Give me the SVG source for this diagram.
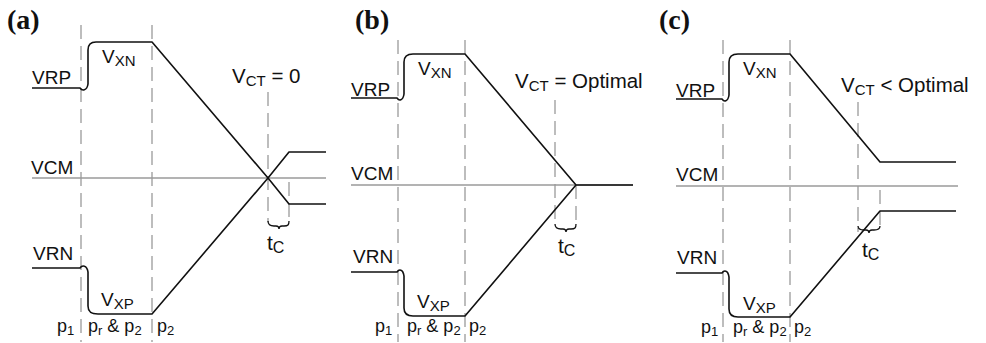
<svg xmlns="http://www.w3.org/2000/svg" width="986" height="343" viewBox="0 0 986 343">
<style>
text{font-family:"Liberation Sans",Arial,sans-serif;font-size:19px;fill:#111}
.big{font-size:20.5px}
.sub{font-size:15px}
.tc{font-size:21px}
.tcs{font-size:16px}
.p{font-size:18px}
.ps{font-size:13px}
.lbl{font-family:"Liberation Serif","Times New Roman",serif;font-weight:bold;font-size:28px}
.dash{stroke:#9a9a9a;stroke-width:1.3;stroke-dasharray:14,7;fill:none}
.vcm{stroke:#9a9a9a;stroke-width:1.5;fill:none}
.sig{stroke:#111;stroke-width:1.6;fill:none;stroke-linejoin:round}
.brace{stroke:#111;stroke-width:1.3;fill:none}
</style>
<rect width="986" height="343" fill="#fff"/>

<!-- Panel (a) -->
<g id="panel-a">
  <text class="lbl" x="7" y="29">(a)</text>
  <g id="a-grid">
    <line class="dash" x1="81" y1="25" x2="81" y2="342"/>
    <line class="dash" x1="152" y1="25" x2="152" y2="342"/>
    <line class="dash" x1="268" y1="92" x2="268" y2="222"/>
    <line class="dash" x1="289" y1="182" x2="289" y2="222"/>
    <line class="vcm" x1="32" y1="178" x2="326" y2="178"/>
  </g>
  <g id="a-signals">
    <path class="sig" d="M32,88 H80 C82,91 87,91 88,84 L88,50 C88,44 91,42 96,42 H152 L268,178 L289,204 H326"/>
    <path class="sig" d="M32,268 H80 C82,265 87,265 88,272 L88,306 C88,312 91,314 98,314 H152 L268,178 L289,152 H326"/>
    <path class="brace" d="M268,221 C268,225 270,226 274,226 L276,226 C278,226 279,227 279,229 C279,227 280,226 282,226 L284,226 C288,226 289,225 289,221"/>
  </g>
  <text x="32" y="84">VRP</text>
  <text x="102" y="63">V<tspan class="sub" dy="3">XN</tspan></text>
  <text class="big" x="232" y="83">V<tspan class="sub" dy="3">CT</tspan><tspan dy="-3"> = 0</tspan></text>
  <text x="31" y="174">VCM</text>
  <text x="33" y="260">VRN</text>
  <text x="101" y="306">V<tspan class="sub" dy="3">XP</tspan></text>
  <text class="tc" x="267" y="250">t<tspan class="tcs" dy="3">C</tspan></text>
  <text class="p" x="57" y="332">p<tspan class="ps" dy="3">1</tspan></text>
  <text class="p" x="88" y="332">p<tspan class="ps" dy="3">r</tspan><tspan dy="-3"> &amp; p</tspan><tspan class="ps" dy="3">2</tspan></text>
  <text class="p" x="157" y="332">p<tspan class="ps" dy="3">2</tspan></text>
</g>

<!-- Panel (b) -->
<g id="panel-b">
  <text class="lbl" x="355" y="29">(b)</text>
  <g id="b-grid">
    <line class="dash" x1="398" y1="40" x2="398" y2="342"/>
    <line class="dash" x1="465" y1="40" x2="465" y2="342"/>
    <line class="dash" x1="555" y1="100" x2="555" y2="225"/>
    <line class="dash" x1="576" y1="185" x2="576" y2="225"/>
    <line class="vcm" x1="351" y1="185" x2="633" y2="185"/>
  </g>
  <g id="b-signals">
    <path class="sig" d="M351,98 H397 C399,101 403,101 404,94 L404,62 C404,56 407,54 413,54 H465 L576,185 H633"/>
    <path class="sig" d="M351,272 H397 C399,269 403,269 404,276 L404,308 C404,314 407,316 413,316 H465 L576,185"/>
    <path class="brace" d="M555,224 C555,228 557,229 561,229 L563,229 C565,229 566,230 566,232 C566,230 567,229 569,229 L571,229 C575,229 576,228 576,224"/>
  </g>
  <text x="351" y="96">VRP</text>
  <text x="418" y="75">V<tspan class="sub" dy="3">XN</tspan></text>
  <text class="big" x="515" y="88">V<tspan class="sub" dy="3">CT</tspan><tspan dy="-3"> = Optimal</tspan></text>
  <text x="351" y="180">VCM</text>
  <text x="353" y="263">VRN</text>
  <text x="417" y="308">V<tspan class="sub" dy="3">XP</tspan></text>
  <text class="tc" x="558" y="253">t<tspan class="tcs" dy="3">C</tspan></text>
  <text class="p" x="375" y="332">p<tspan class="ps" dy="3">1</tspan></text>
  <text class="p" x="407" y="332">p<tspan class="ps" dy="3">r</tspan><tspan dy="-3"> &amp; p</tspan><tspan class="ps" dy="3">2</tspan></text>
  <text class="p" x="469" y="332">p<tspan class="ps" dy="3">2</tspan></text>
</g>

<!-- Panel (c) -->
<g id="panel-c">
  <text class="lbl" x="659" y="29">(c)</text>
  <g id="c-grid">
    <line class="dash" x1="723" y1="40" x2="723" y2="342"/>
    <line class="dash" x1="790" y1="40" x2="790" y2="342"/>
    <line class="dash" x1="858" y1="102" x2="858" y2="232"/>
    <line class="dash" x1="880" y1="190" x2="880" y2="232"/>
    <line class="vcm" x1="676" y1="186" x2="958" y2="186"/>
  </g>
  <g id="c-signals">
    <path class="sig" d="M676,99 H722 C724,102 728,102 729,95 L729,62 C729,56 732,54 738,54 H790 L880,162 H956"/>
    <path class="sig" d="M676,273 H722 C724,270 728,270 729,277 L729,309 C729,315 732,317 738,317 H790 L880,211 H956"/>
    <path class="brace" d="M858,226 C858,229 860,230 864,230 L866,230 C868,230 869,231 869,233 C869,231 870,230 872,230 L874,230 C878,230 880,229 880,226"/>
  </g>
  <text x="676" y="97">VRP</text>
  <text x="743" y="75">V<tspan class="sub" dy="3">XN</tspan></text>
  <text class="big" x="841" y="92">V<tspan class="sub" dy="3">CT</tspan><tspan dy="-3"> &lt; Optimal</tspan></text>
  <text x="676" y="181">VCM</text>
  <text x="677" y="264">VRN</text>
  <text x="743" y="310">V<tspan class="sub" dy="3">XP</tspan></text>
  <text class="tc" x="862" y="257">t<tspan class="tcs" dy="3">C</tspan></text>
  <text class="p" x="701" y="333">p<tspan class="ps" dy="3">1</tspan></text>
  <text class="p" x="733" y="333">p<tspan class="ps" dy="3">r</tspan><tspan dy="-3"> &amp; p</tspan><tspan class="ps" dy="3">2</tspan></text>
  <text class="p" x="794" y="333">p<tspan class="ps" dy="3">2</tspan></text>
</g>
</svg>
